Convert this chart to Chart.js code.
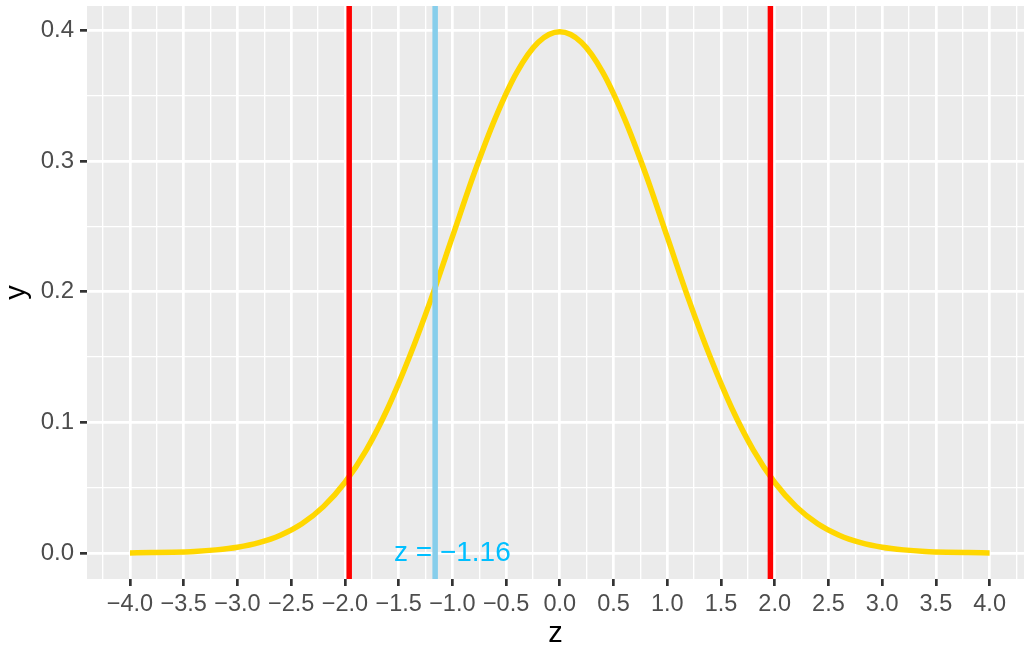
<!DOCTYPE html>
<html>
<head>
<meta charset="utf-8">
<script src="https://cdn.jsdelivr.net/npm/chart.js@4.4.1/dist/chart.umd.min.js"></script>
<style>
  body { margin: 0; background: #fff; overflow: hidden; }
  #chart { display: block; }
</style>
</head>
<body>
<canvas id="chart" width="1024" height="645"></canvas>
<script>
// density curve
const zValues = [-4.0, -3.8, -3.6, -3.4, -3.2, -3.0, -2.8, -2.6, -2.4, -2.2, -2.0,
  -1.8, -1.6, -1.4, -1.2, -1.0, -0.8, -0.6, -0.4, -0.2, 0.0,
  0.2, 0.4, 0.6, 0.8, 1.0, 1.2, 1.4, 1.6, 1.8, 2.0,
  2.2, 2.4, 2.6, 2.8, 3.0, 3.2, 3.4, 3.6, 3.8, 4.0];
const densityValues = [0.0001, 0.0003, 0.0006, 0.0012, 0.0024, 0.0044, 0.0079, 0.0136, 0.0224, 0.0355, 0.054,
  0.079, 0.111, 0.150, 0.194, 0.242, 0.290, 0.333, 0.368, 0.391, 0.399,
  0.391, 0.368, 0.333, 0.290, 0.242, 0.194, 0.150, 0.111, 0.079, 0.054,
  0.0355, 0.0224, 0.0136, 0.0079, 0.0044, 0.0024, 0.0012, 0.0006, 0.0003, 0.0001];

const criticalZ = [-1.96, 1.96];
const observedZ = -1.16;
const labelText = 'z = \u22121.16';
const labelPos = { x: -1.0, y: 0.0 };

// axis limits (ggplot expanded)
const xMin = -4.4, xMax = 4.32;
const yMin = -0.0199, yMax = 0.4188;

const FONT = "'Liberation Sans', Arial, sans-serif";

function isMajor(v, step) {
  const r = v / step;
  return Math.abs(r - Math.round(r)) < 1e-6;
}
function fmt(v) {
  if (Math.abs(v) < 1e-9) return '0.0';
  return (v < 0 ? '\u2212' : '') + Math.abs(v).toFixed(1);
}
function vline(x) {
  return [{ x: x, y: yMin }, { x: x, y: yMax }];
}

const panelBg = {
  id: 'panelBg',
  beforeDraw(chart) {
    const a = chart.chartArea;
    const ctx = chart.ctx;
    ctx.save();
    ctx.fillStyle = '#EBEBEB';
    ctx.fillRect(a.left, a.top, a.right - a.left, a.bottom - a.top);
    ctx.restore();
  }
};

const zLabel = {
  id: 'zLabel',
  afterDatasetsDraw(chart) {
    const ctx = chart.ctx;
    const px = chart.scales.x.getPixelForValue(labelPos.x);
    const py = chart.scales.y.getPixelForValue(labelPos.y);
    ctx.save();
    ctx.font = '28px ' + FONT;
    ctx.fillStyle = '#00BFFF';
    ctx.textAlign = 'center';
    ctx.textBaseline = 'middle';
    ctx.fillText(labelText, px, py);
    ctx.restore();
  }
};

const curve = zValues.map((z, i) => ({ x: z, y: densityValues[i] }));

new Chart(document.getElementById('chart'), {
  type: 'scatter',
  data: {
    datasets: [
      { data: vline(criticalZ[0]), showLine: true, borderColor: '#FF0000', borderWidth: 5.5, pointRadius: 0 },
      { data: vline(criticalZ[1]), showLine: true, borderColor: '#FF0000', borderWidth: 5.5, pointRadius: 0 },
      { data: vline(observedZ), showLine: true, borderColor: '#87CEEB', borderWidth: 5.5, pointRadius: 0 },
      { data: curve, showLine: true, borderColor: '#FFD700', borderWidth: 5.5, pointRadius: 0,
        cubicInterpolationMode: 'monotone' }
    ]
  },
  options: {
    responsive: false,
    animation: false,
    layout: { padding: { top: 6, right: 0, left: 0, bottom: 0 } },
    plugins: { legend: { display: false }, tooltip: { enabled: false } },
    scales: {
      x: {
        type: 'linear',
        min: xMin,
        max: xMax,
        border: { display: false },
        grid: {
          color: '#FFFFFF',
          lineWidth: c => isMajor(c.tick.value, 0.5) ? 2.7 : 1.35,
          tickColor: c => isMajor(c.tick.value, 0.5) ? '#333333' : 'rgba(0,0,0,0)',
          tickWidth: 2.7,
          tickLength: 7
        },
        ticks: {
          stepSize: 0.25,
          includeBounds: false,
          autoSkip: false,
          maxRotation: 0,
          padding: 4,
          color: '#4D4D4D',
          font: { family: FONT, size: 23.5 },
          callback: v => isMajor(v, 0.5) ? fmt(v) : ''
        },
        title: {
          display: true,
          text: 'z',
          color: '#000000',
          font: { family: FONT, size: 29, lineHeight: 0.75 },
          padding: 0
        },
        afterFit: s => { s.height = 66; s.paddingLeft = 0; s.paddingRight = 0; }
      },
      y: {
        type: 'linear',
        min: yMin,
        max: yMax,
        border: { display: false },
        grid: {
          color: '#FFFFFF',
          lineWidth: c => isMajor(c.tick.value, 0.1) ? 2.7 : 1.35,
          tickColor: c => isMajor(c.tick.value, 0.1) ? '#333333' : 'rgba(0,0,0,0)',
          tickWidth: 2.7,
          tickLength: 7
        },
        ticks: {
          stepSize: 0.05,
          includeBounds: false,
          autoSkip: false,
          padding: 6,
          color: '#4D4D4D',
          font: { family: FONT, size: 24 },
          callback: v => isMajor(v, 0.1) ? fmt(v) : ''
        },
        title: {
          display: true,
          text: 'y',
          color: '#000000',
          font: { family: FONT, size: 29 },
          padding: 0
        },
        afterFit: s => { s.width = 87; s.paddingTop = 0; s.paddingBottom = 0; }
      }
    }
  },
  plugins: [panelBg, zLabel]
});
</script>
</body>
</html>
